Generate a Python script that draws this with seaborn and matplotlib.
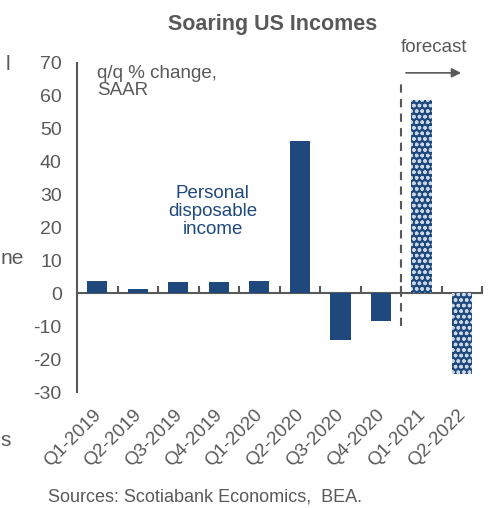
import pandas as pd
import matplotlib.pyplot as plt
import matplotlib.transforms as mtransforms
import seaborn as sns

# quarterly personal disposable income, q/q % change SAAR
quarters = ['Q1-2019', 'Q2-2019', 'Q3-2019', 'Q4-2019', 'Q1-2020',
            'Q2-2020', 'Q3-2020', 'Q4-2020', 'Q1-2021', 'Q2-2022']
income = [3.9, 1.4, 3.4, 3.4, 3.8, 46.3, -14.3, -8.5, 58.7, -24.6]
forecast = [False] * 8 + [True, True]
yticks = list(range(-30, 71, 10))

df = pd.DataFrame({'Quarter': quarters, 'Income': income, 'Forecast': forecast})

sns.set_style('white')
plt.rcParams['font.family'] = ['Liberation Sans', 'DejaVu Sans']
plt.rcParams['axes.unicode_minus'] = False
plt.rcParams['hatch.linewidth'] = 1.0
gray = '#595959'
blue = '#1F497D'

fig = plt.figure(figsize=(4.91, 5.08), dpi=100)
ax = fig.add_axes([0.157, 0.228, 0.825, 0.648])

sns.barplot(data=df, x='Quarter', y='Income', color=blue, width=0.5,
            saturation=1, ax=ax)

# forecast bars get the patterned fill
for bar, is_fc in zip(ax.patches, df['Forecast']):
    bar.set_linewidth(0)
    if is_fc:
        bar.set_facecolor(blue)
        bar.set_edgecolor('#C9D6E8')
        bar.set_hatch('ooo')

ax.set_xlim(-0.5, len(quarters) - 0.5)
ax.set_ylim(-30, 70)
ax.set_yticks(yticks)
ax.set_xlabel('')
ax.set_ylabel('')

for s in ['top', 'right', 'bottom']:
    ax.spines[s].set_visible(False)
ax.spines['left'].set_color(gray)
ax.spines['left'].set_linewidth(1.5)
ax.tick_params(axis='y', direction='in', length=4, width=1.5, color=gray,
               labelcolor=gray, labelsize=14, pad=11)
ax.tick_params(axis='x', length=0, labelcolor=gray, labelsize=13.5, pad=10)
shift = mtransforms.ScaledTranslation(-5 / 100, 0, fig.dpi_scale_trans)
for lbl in ax.get_xticklabels():
    lbl.set_rotation(45)
    lbl.set_ha('right')
    lbl.set_rotation_mode('anchor')
    lbl.set_transform(lbl.get_transform() + shift)

# zero line with category-boundary ticks
zero_frac = (0 - yticks[0]) / (yticks[-1] - yticks[0])
zax = ax.secondary_xaxis(zero_frac)
zax.spines['bottom'].set_color(gray)
zax.spines['bottom'].set_linewidth(1.5)
zax.set_xticks([i + 0.5 for i in range(len(quarters))])
zax.tick_params(direction='in', length=5, width=1.5, color=gray, labelbottom=False)

# forecast divider
ax.vlines(7.5, -10, 64, colors=gray, linestyles=(0, (4, 3)), linewidth=1.5)
ax.annotate('', xy=(9.05, 67), xytext=(7.55, 67), annotation_clip=False,
            arrowprops=dict(arrowstyle='-|>', color=gray, lw=1.2, mutation_scale=14))
ax.text(8.3, 72.0, 'forecast', ha='center', va='bottom', color=gray,
        fontsize=13.5, clip_on=False)

ax.text(0.0, 69.5, 'q/q % change,\nSAAR', ha='left', va='top', color=gray,
        fontsize=13.5, linespacing=1.05)
ax.text(2.85, 33, 'Personal\ndisposable\nincome', ha='center', va='top',
        color=blue, fontsize=13.5, linespacing=1.1)

fig.text(0.555, 0.952, 'Soaring US Incomes', ha='center', va='center',
         fontsize=15.5, fontweight='bold', color=gray)
fig.text(0.098, 0.022, 'Sources: Scotiabank Economics,  BEA.', ha='left',
         va='center', fontsize=13, color=gray)

# fragments of the neighbouring panel's text
fig.text(0.012, 0.873, 'l', fontsize=15, color=gray, va='center')
fig.text(0.001, 0.492, 'ne', fontsize=15, color=gray, va='center')
fig.text(0.001, 0.132, 's', fontsize=15, color=gray, va='center')

fig.savefig('out.png', dpi=100)
